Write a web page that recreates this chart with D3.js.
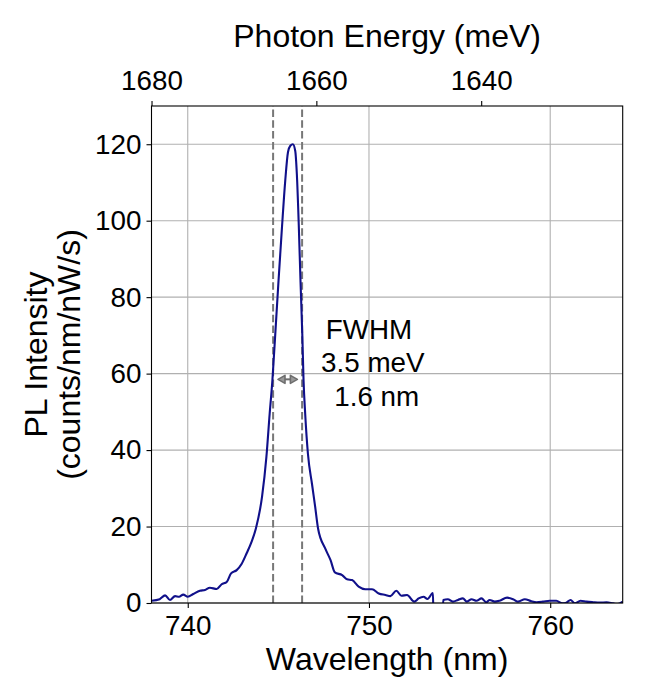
<!DOCTYPE html>
<html>
<head>
<meta charset="utf-8">
<script src="https://cdn.jsdelivr.net/npm/d3@7"></script>
<style>
  body { margin: 0; background: #fff; }
  svg { display: block; font-family: "Liberation Sans", Arial, sans-serif; }
</style>
</head>
<body>
<script>
// spectrum
const wavelength = [
  738.0, 738.45, 738.75, 739.02, 739.3, 739.52, 739.75, 740.0, 740.3, 740.67,
  740.95, 741.22, 741.6, 741.87, 742.15, 742.39, 742.7, 742.97, 743.25, 743.52,
  743.76, 744.1, 744.34, 744.52, 744.67, 744.83, 745.01, 745.2, 745.38, 745.53,
  745.66, 745.8, 745.93, 746.02, 746.13, 746.22, 746.32, 746.39, 746.48, 746.63,
  746.86, 747.03, 747.19, 747.59, 747.88, 748.12, 748.52, 748.79, 749.07, 749.43,
  749.8, 750.17, 750.54, 750.91, 751.18, 751.51, 751.79, 752.1, 752.5, 752.74,
  753.01, 753.23, 753.53, 753.56, 754.06, 754.1, 754.35, 754.63, 754.91, 755.18,
  755.4, 755.66, 755.93, 756.21, 756.48, 756.66, 756.94, 757.21, 757.62, 757.95,
  758.23, 758.6, 758.96, 759.24, 759.6, 759.97, 760.34, 760.67, 760.89, 761.12,
  761.36, 761.67, 762.0, 762.37, 762.74, 763.11, 763.47, 763.7, 764.0
];
const intensity = [
  0.6, 1.0, 2.0, 0.8, 1.8, 1.65, 2.2, 1.65, 2.35, 3.2,
  3.4, 4.0, 3.65, 4.9, 5.5, 7.75, 8.6, 10.2, 13.0, 16.0,
  19.5, 27.8, 38.2, 49.5, 58.2, 70.4, 84.4, 98.3, 110.5, 117.9,
  119.6, 120.0, 118.3, 112.2, 98.3, 84.4, 70.4, 58.2, 49.5, 39.1,
  31.0, 25.2, 19.5, 14.2, 11.2, 8.0, 7.3, 6.2, 6.0, 4.3,
  3.6, 3.6, 2.5, 2.1, 1.8, 3.2, 1.9, 2.1, 0.35, 1.2,
  1.65, 1.05, 2.6, -4.0, -4.0, 0.8, 1.0, 0.35, 0.8, 1.2,
  0.35, 1.0, 0.6, 1.2, 0.2, 0.8, 0.35, 0.6, 1.4, 1.0,
  0.35, 1.0, 0.45, 0.2, 0.35, 0.6, 0.6, -0.1, 0.1, 0.8,
  -0.1, 0.6, 0.35, 0.2, 0.1, 0.2, -0.1, -0.3, 0.35
];

const xLimits = [738, 764];
const yLimits = [0, 130];
const bottomTicks = [740, 750, 760];
const topTicks = [1680, 1660, 1640];
const yTicks = [0, 20, 40, 60, 80, 100, 120];

// FWHM marks
const fwhmLines = [744.71, 746.31];
const fwhmArrow = [744.98, 746.05];
const fwhmArrowLevel = 58.5;
const fwhmLabel = ["FWHM", "\u00a03.5 meV", "\u00a0\u00a01.6 nm"];
const fwhmLabelPos = [750, 63];

const width = 650;
const height = 700;
const margin = { top: 106, right: 27.3, bottom: 97, left: 151.5 };
const fontTick = 27.8;
const fontLabel = 32;

const svg = d3
  .select("body")
  .append("svg")
  .attr("width", width)
  .attr("height", height);

const x = d3.scaleLinear().domain(xLimits).range([margin.left, width - margin.right]);
const y = d3.scaleLinear().domain(yLimits).range([height - margin.bottom, margin.top]);
// top axis: energy (meV) of the two wavelength limits, linear in between
const xTop = d3
  .scaleLinear()
  .domain(xLimits.map((l) => 1239841.98 / l))
  .range(x.range());

// grid
svg
  .append("g")
  .selectAll("line")
  .data(bottomTicks)
  .enter()
  .append("line")
  .attr("x1", (d) => x(d))
  .attr("x2", (d) => x(d))
  .attr("y1", y.range()[0])
  .attr("y2", y.range()[1])
  .attr("stroke", "#b0b0b0")
  .attr("stroke-width", 1.1);

svg
  .append("g")
  .selectAll("line")
  .data(yTicks)
  .enter()
  .append("line")
  .attr("x1", x.range()[0])
  .attr("x2", x.range()[1])
  .attr("y1", (d) => y(d))
  .attr("y2", (d) => y(d))
  .attr("stroke", "#b0b0b0")
  .attr("stroke-width", 1.1);

svg
  .append("clipPath")
  .attr("id", "plot-clip")
  .append("rect")
  .attr("x", margin.left)
  .attr("y", margin.top)
  .attr("width", x.range()[1] - x.range()[0])
  .attr("height", y.range()[0] - y.range()[1]);

// dashed FWHM lines
svg
  .append("g")
  .selectAll("line")
  .data(fwhmLines)
  .enter()
  .append("line")
  .attr("x1", (d) => x(d))
  .attr("x2", (d) => x(d))
  .attr("y1", y.range()[0])
  .attr("y2", y.range()[1])
  .attr("stroke", "#777")
  .attr("stroke-width", 2)
  .attr("stroke-dasharray", "7.5,3.3");

// spectrum
const points = wavelength.map((w, i) => [w, intensity[i]]);
svg
  .append("path")
  .datum(points)
  .attr("clip-path", "url(#plot-clip)")
  .attr("d", d3.line().x((d) => x(d[0])).y((d) => y(d[1])).curve(d3.curveMonotoneX))
  .attr("fill", "none")
  .attr("stroke", "#10108a")
  .attr("stroke-width", 2.1)
  .attr("stroke-linejoin", "round");

// double arrow
const ax1 = x(fwhmArrow[0]);
const ax2 = x(fwhmArrow[1]);
const ay = y(fwhmArrowLevel);
const head = 7;
svg
  .append("path")
  .attr("d", `M${ax1 + 3},${ay}L${ax2 - 3},${ay}`)
  .attr("stroke", "#6e6e6e")
  .attr("stroke-width", 2);
svg
  .append("path")
  .attr(
    "d",
    `M${ax1 + head},${ay - 4}L${ax1},${ay}L${ax1 + head},${ay + 4}Z` +
      `M${ax2 - head},${ay - 4}L${ax2},${ay}L${ax2 - head},${ay + 4}Z`
  )
  .attr("fill", "#999")
  .attr("stroke", "#6e6e6e")
  .attr("stroke-width", 1.6)
  .attr("stroke-linejoin", "round");

svg
  .append("text")
  .attr("text-anchor", "middle")
  .style("font-size", fontTick + "px")
  .selectAll("tspan")
  .data(fwhmLabel)
  .enter()
  .append("tspan")
  .attr("x", x(fwhmLabelPos[0]))
  .attr("y", (d, i) => y(fwhmLabelPos[1]) + (i - 1) * 33.4 + 10)
  .text((d) => d);

// frame
svg
  .append("rect")
  .attr("x", margin.left)
  .attr("y", margin.top)
  .attr("width", x.range()[1] - x.range()[0])
  .attr("height", y.range()[0] - y.range()[1])
  .attr("fill", "none")
  .attr("stroke", "#000")
  .attr("stroke-width", 1.1);

function styleAxis(g) {
  g.select(".domain").remove();
  g.selectAll(".tick line").attr("stroke", "#000").attr("stroke-width", 1.1);
  g.selectAll(".tick text").attr("fill", "#000").style("font-size", fontTick + "px");
}

svg
  .append("g")
  .attr("transform", `translate(0,${y.range()[0]})`)
  .call(d3.axisBottom(x).tickValues(bottomTicks).tickSize(5).tickPadding(7).tickFormat(d3.format("d")))
  .call(styleAxis);

svg
  .append("g")
  .attr("transform", `translate(0,${margin.top})`)
  .call(d3.axisTop(xTop).tickValues(topTicks).tickSize(5).tickPadding(11).tickFormat(d3.format("d")))
  .call(styleAxis);

svg
  .append("g")
  .attr("transform", `translate(${margin.left},0)`)
  .call(d3.axisLeft(y).tickValues(yTicks).tickSize(5).tickPadding(5).tickFormat(d3.format("d")))
  .call(styleAxis);

// axis titles
svg
  .append("text")
  .attr("x", (x.range()[0] + x.range()[1]) / 2)
  .attr("y", 670)
  .attr("text-anchor", "middle")
  .style("font-size", fontLabel + "px")
  .text("Wavelength (nm)");

svg
  .append("text")
  .attr("x", (x.range()[0] + x.range()[1]) / 2)
  .attr("y", 47)
  .attr("text-anchor", "middle")
  .style("font-size", fontLabel + "px")
  .text("Photon Energy (meV)");

const yMid = (y.range()[0] + y.range()[1]) / 2;
svg
  .append("g")
  .selectAll("text")
  .data(["PL Intensity", "(counts/nm/nW/s)"])
  .enter()
  .append("text")
  .attr("transform", (d, i) => `translate(${47 + i * 33.4},${yMid}) rotate(-90)`)
  .attr("text-anchor", "middle")
  .style("font-size", fontLabel + "px")
  .text((d) => d);
</script>
</body>
</html>
